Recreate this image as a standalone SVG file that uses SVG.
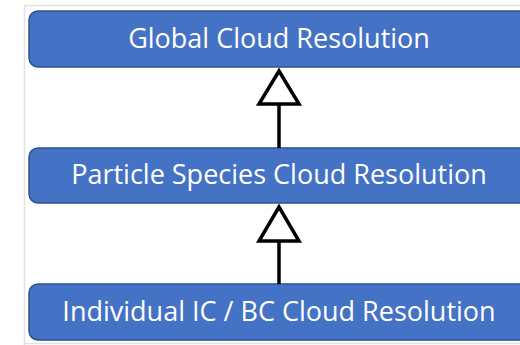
<svg xmlns="http://www.w3.org/2000/svg" width="520" height="345" viewBox="0 0 520 345">
<style>
.box{fill:#4472C4;stroke:#2F528F;stroke-width:1.5}
.lbl{fill:#ffffff;font-family:"Open Sans","Liberation Sans",sans-serif;font-size:27px;text-anchor:middle}
.conn{stroke:#000;stroke-width:3.5;fill:none}
.head{stroke:#000;stroke-width:3.5;fill:#fff;stroke-linejoin:miter}
</style>
<rect x="0" y="0" width="520" height="345" fill="#fff"/>
<path d="M24.5 345 V5.5 H520 M24.5 343.5 H520" fill="none" stroke="#e3e3e3" stroke-width="1.5"/>
<g id="n1"><rect class="box" x="29" y="11" width="500" height="56" rx="9"/><text class="lbl" x="279" y="48">Global Cloud Resolution</text></g>
<g id="n2"><rect class="box" x="29" y="148" width="500" height="55" rx="9"/><text class="lbl" x="279" y="184">Particle Species Cloud Resolution</text></g>
<g id="n3"><rect class="box" x="29" y="284" width="500" height="56" rx="9"/><text class="lbl" x="279" y="321">Individual IC / BC Cloud Resolution</text></g>
<g id="connectors">
<line class="conn" x1="279" y1="104" x2="279" y2="148"/>
<polygon class="head" points="279,71 259,104 299,104"/>
<line class="conn" x1="279" y1="241" x2="279" y2="284"/>
<polygon class="head" points="279,207 259,241 299,241"/>
</g>
</svg>
